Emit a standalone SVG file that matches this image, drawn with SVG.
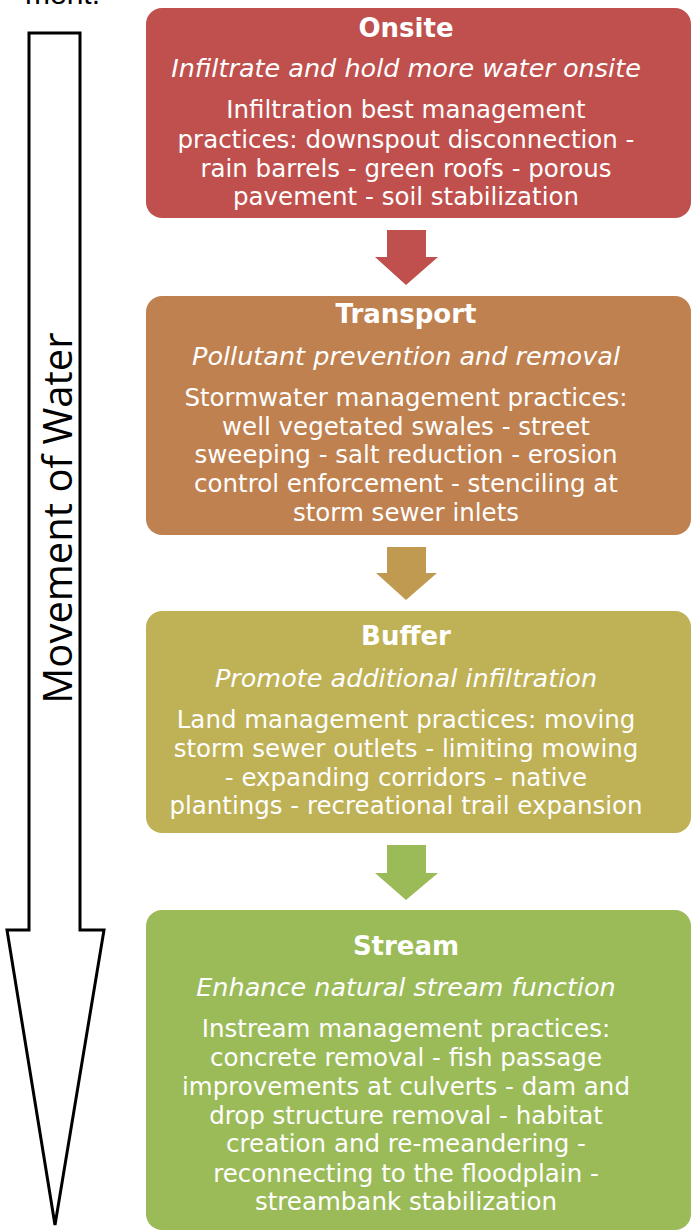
<svg xmlns="http://www.w3.org/2000/svg" width="691" height="1232" viewBox="0 0 691 1232">
<style>
  .t { font-family: "DejaVu Sans", Verdana, sans-serif; fill: #ffffff; text-anchor: middle; }
  .h { font-weight: bold; font-size: 26px; }
  .i { font-style: italic; font-size: 25.5px; }
  .b { font-size: 24.5px; }
  .side { font-family: "Open Sans", "Liberation Sans", sans-serif; font-size: 40px; fill: #000; text-anchor: middle; }
</style>
<rect width="691" height="1232" fill="#ffffff"/>
<text x="25" y="4" font-family="Liberation Sans, sans-serif" font-size="30" fill="#000">ment.</text>
<g id="movement-arrow">
  <polygon points="29,33 80,33 80,930 104,930 55,1225 7,930 29,930" fill="#ffffff" stroke="#000000" stroke-width="3" stroke-linejoin="miter"/>
  <text class="side" transform="translate(72,518) rotate(-90)">Movement of Water</text>
</g>
<g id="connectors">
  <polygon points="387,230 426,230 426,257 438,257 406,285 375,257 387,257" fill="#C0504D"/>
  <polygon points="387,547 426,547 426,573 437,573 406,600 376,573 387,573" fill="#BF9A50"/>
  <polygon points="387,845 426,845 426,873 438,873 406,900 375,873 387,873" fill="#9BBB59"/>
</g>
<g id="onsite">
  <rect x="146" y="8" width="545" height="210" rx="16" fill="#C0504D"/>
  <text class="t h" x="406" y="37">Onsite</text>
  <text class="t i" x="406" y="77">Infiltrate and hold more water onsite</text>
  <text class="t b" x="406" y="118">Infiltration best management</text>
  <text class="t b" x="406" y="148">practices: downspout disconnection -</text>
  <text class="t b" x="406" y="177">rain barrels - green roofs - porous</text>
  <text class="t b" x="406" y="205">pavement - soil stabilization</text>
</g>
<g id="transport">
  <rect x="146" y="296" width="545" height="239" rx="16" fill="#BF8150"/>
  <text class="t h" x="406" y="323">Transport</text>
  <text class="t i" x="406" y="365">Pollutant prevention and removal</text>
  <text class="t b" x="406" y="406">Stormwater management practices:</text>
  <text class="t b" x="406" y="435">well vegetated swales - street</text>
  <text class="t b" x="406" y="463">sweeping - salt reduction - erosion</text>
  <text class="t b" x="406" y="492">control enforcement - stenciling at</text>
  <text class="t b" x="406" y="521">storm sewer inlets</text>
</g>
<g id="buffer">
  <rect x="146" y="611" width="545" height="222" rx="16" fill="#BFB156"/>
  <text class="t h" x="406" y="645">Buffer</text>
  <text class="t i" x="406" y="687">Promote additional infiltration</text>
  <text class="t b" x="406" y="728">Land management practices: moving</text>
  <text class="t b" x="406" y="757">storm sewer outlets - limiting mowing</text>
  <text class="t b" x="406" y="786">- expanding corridors - native</text>
  <text class="t b" x="406" y="814">plantings - recreational trail expansion</text>
</g>
<g id="stream">
  <rect x="146" y="910" width="545" height="320" rx="16" fill="#9BBB59"/>
  <text class="t h" x="406" y="955">Stream</text>
  <text class="t i" x="406" y="996">Enhance natural stream function</text>
  <text class="t b" x="406" y="1037">Instream management practices:</text>
  <text class="t b" x="406" y="1066">concrete removal - fish passage</text>
  <text class="t b" x="406" y="1095">improvements at culverts - dam and</text>
  <text class="t b" x="406" y="1124">drop structure removal - habitat</text>
  <text class="t b" x="406" y="1152">creation and re-meandering -</text>
  <text class="t b" x="406" y="1182">reconnecting to the floodplain -</text>
  <text class="t b" x="406" y="1210">streambank stabilization</text>
</g>
</svg>
